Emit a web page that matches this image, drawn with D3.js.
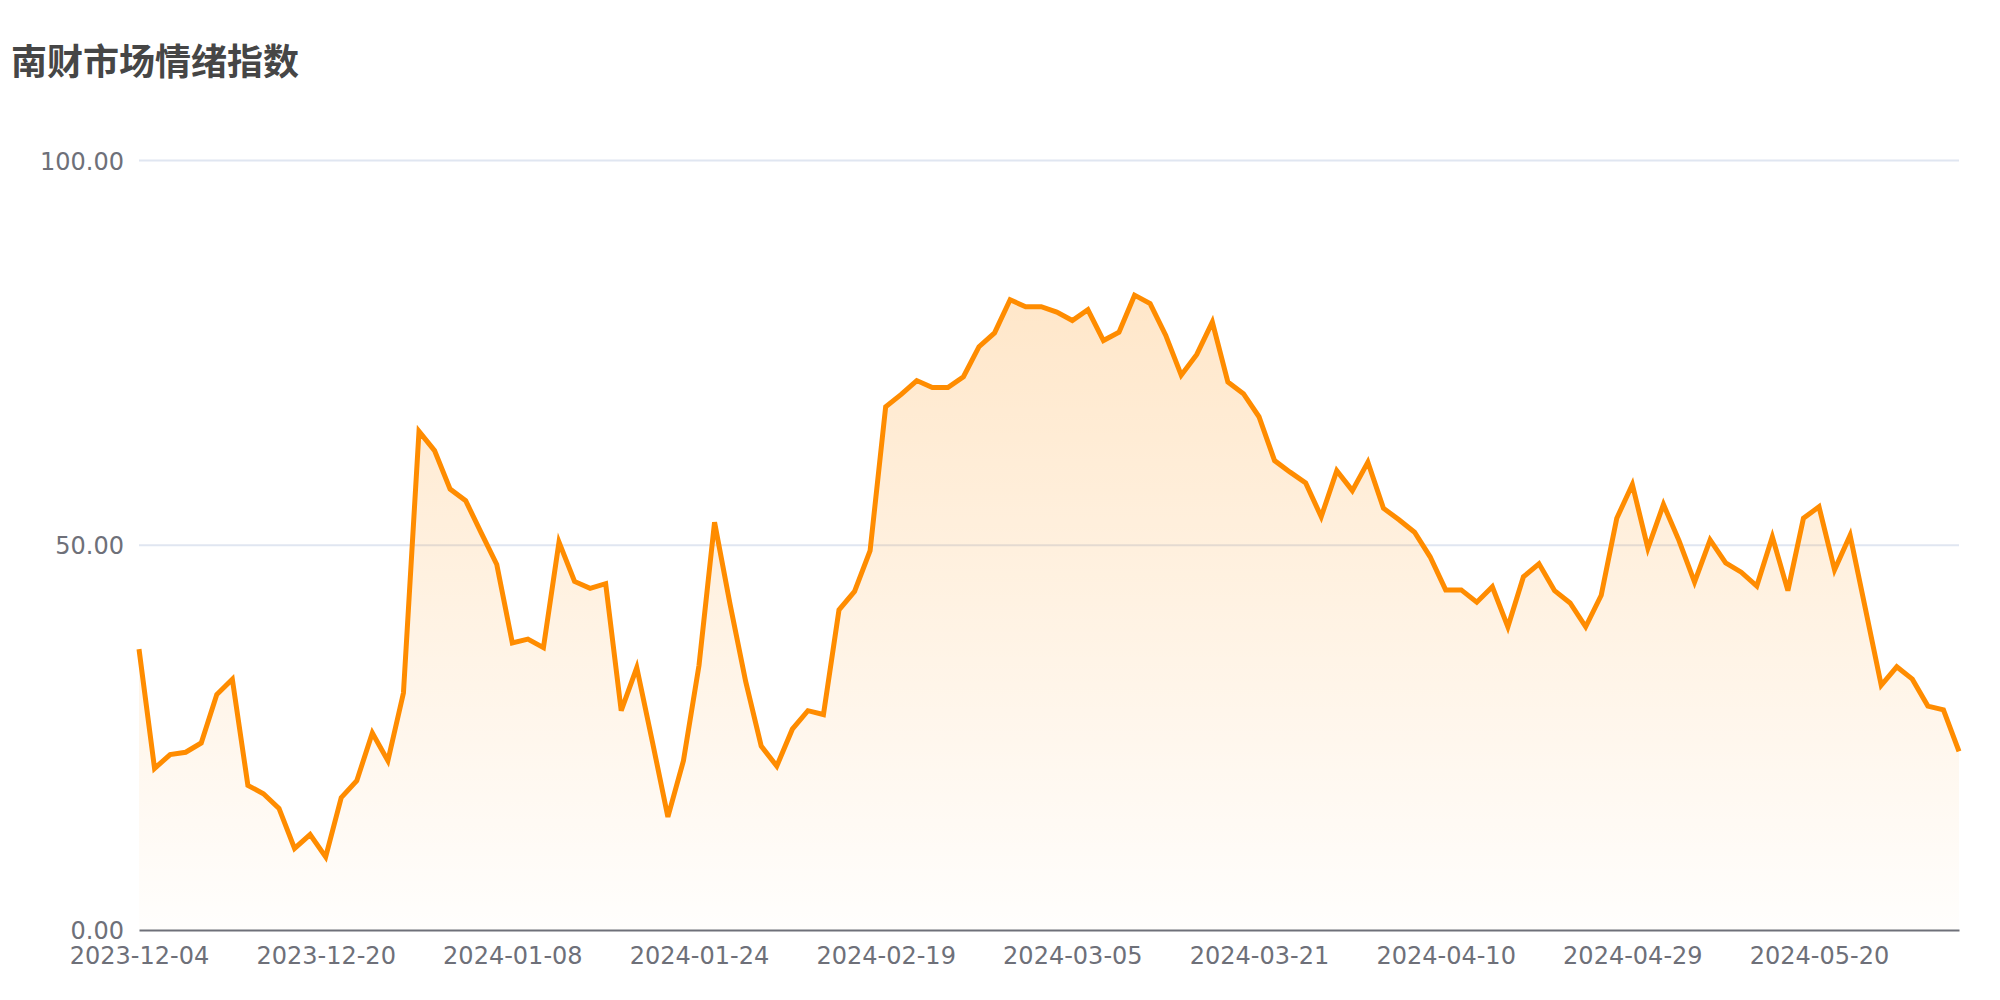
<!DOCTYPE html>
<html>
<head>
<meta charset="utf-8">
<script src="https://cdn.jsdelivr.net/npm/d3@7"></script>
<style>
  body { margin: 0; background: #fff; }
  svg { display: block; }
</style>
</head>
<body>
<div id="chart"></div>
<script>
var title = "南财市场情绪指数";

// trading days shown on the category axis
var dates = [
  "2023-12-04","2023-12-05","2023-12-06","2023-12-07","2023-12-08","2023-12-11","2023-12-12","2023-12-13",
  "2023-12-14","2023-12-15","2023-12-18","2023-12-19","2023-12-20","2023-12-21","2023-12-22","2023-12-25",
  "2023-12-26","2023-12-27","2023-12-28","2023-12-29","2024-01-02","2024-01-03","2024-01-04","2024-01-05",
  "2024-01-08","2024-01-09","2024-01-10","2024-01-11","2024-01-12","2024-01-15","2024-01-16","2024-01-17",
  "2024-01-18","2024-01-19","2024-01-22","2024-01-23","2024-01-24","2024-01-25","2024-01-26","2024-01-29",
  "2024-01-30","2024-01-31","2024-02-01","2024-02-02","2024-02-05","2024-02-06","2024-02-07","2024-02-08",
  "2024-02-19","2024-02-20","2024-02-21","2024-02-22","2024-02-23","2024-02-26","2024-02-27","2024-02-28",
  "2024-02-29","2024-03-01","2024-03-02","2024-03-04","2024-03-05","2024-03-06","2024-03-07","2024-03-08",
  "2024-03-11","2024-03-12","2024-03-13","2024-03-14","2024-03-15","2024-03-18","2024-03-19","2024-03-20",
  "2024-03-21","2024-03-22","2024-03-25","2024-03-26","2024-03-27","2024-03-28","2024-03-29","2024-04-01",
  "2024-04-02","2024-04-03","2024-04-08","2024-04-09","2024-04-10","2024-04-11","2024-04-12","2024-04-15",
  "2024-04-16","2024-04-17","2024-04-18","2024-04-19","2024-04-22","2024-04-23","2024-04-24","2024-04-25",
  "2024-04-29","2024-04-30","2024-05-06","2024-05-07","2024-05-08","2024-05-09","2024-05-10","2024-05-13",
  "2024-05-14","2024-05-15","2024-05-16","2024-05-17","2024-05-20","2024-05-21","2024-05-22","2024-05-23",
  "2024-05-24","2024-05-27","2024-05-28","2024-05-29","2024-05-30","2024-05-31"
];

// sentiment index
var values = [
  36.5, 21.0, 22.8, 23.1, 24.3, 30.6, 32.6, 18.8, 17.7, 15.8, 10.6, 12.4, 9.5, 17.2, 19.4, 25.6,
  22.0, 30.8, 64.8, 62.3, 57.3, 55.8, 51.6, 47.5, 37.3, 37.8, 36.7, 50.4, 45.3, 44.4, 45.0, 28.5,
  34.1, 24.5, 14.7, 22.0, 34.4, 53.0, 42.3, 32.3, 23.9, 21.3, 26.1, 28.5, 28.0, 41.6, 44.0, 49.3,
  68.0, 69.6, 71.4, 70.5, 70.5, 71.9, 75.8, 77.6, 81.9, 81.0, 81.0, 80.3, 79.2, 80.6, 76.6, 77.7,
  82.5, 81.4, 77.3, 72.1, 74.8, 79.0, 71.2, 69.7, 66.7, 61.0, 59.5, 58.1, 53.7, 59.7, 57.1, 60.8,
  54.8, 53.3, 51.7, 48.5, 44.2, 44.2, 42.6, 44.6, 39.4, 45.9, 47.6, 44.1, 42.5, 39.4, 43.5, 53.5,
  57.9, 49.6, 55.3, 50.6, 45.2, 50.7, 47.7, 46.5, 44.7, 51.1, 44.1, 53.5, 55.0, 46.8, 51.3, 41.6,
  31.8, 34.2, 32.6, 29.1, 28.6, 23.2
];

var yTicks = [0, 50, 100];

var width = 2000,
height = 1000,
plotLeft = 139,
plotRight = 1959,
plotTop = 160.5,
plotBottom = 930;

var data = dates.map(function(d, i) { return { date: d, value: values[i] }; });

var svg = d3.select("#chart")
.append("svg")
.attr("width", width)
.attr("height", height);

var xScale = d3.scalePoint()
.domain(dates)
.range([plotLeft, plotRight]);

var yScale = d3.scaleLinear()
.domain([0, 100])
.range([plotBottom, plotTop]);

//Gradient for the area under the line
var grad = svg.append("defs")
.append("linearGradient")
.attr("id", "areaGrad")
.attr("x1", 0).attr("y1", 0)
.attr("x2", 0).attr("y2", 1);

grad.append("stop").attr("offset", "0%").attr("stop-color", "rgb(255,140,0)").attr("stop-opacity", 0.21);
grad.append("stop").attr("offset", "100%").attr("stop-color", "rgb(255,140,0)").attr("stop-opacity", 0.01);

//Title
svg.append("text")
.attr("x", 11)
.attr("y", 75)
.attr("font-family", "'Noto Sans CJK SC', sans-serif")
.attr("font-weight", "bold")
.attr("font-size", 36)
.attr("fill", "#464646")
.text(title);

//Horizontal grid lines
svg.append("g")
.selectAll("line")
.data(yTicks.slice(1))
.enter()
.append("line")
.attr("x1", plotLeft)
.attr("x2", plotRight)
.attr("y1", function(d) { return yScale(d); })
.attr("y2", function(d) { return yScale(d); })
.attr("stroke", "#E0E6F1")
.attr("stroke-width", 2);

//Y labels
var yAxis = d3.axisLeft(yScale)
.tickValues(yTicks)
.tickSize(0)
.tickPadding(15)
.tickFormat(d3.format(".2f"));

var yg = svg.append("g")
.attr("transform", "translate(" + plotLeft + ",1)")
.call(yAxis);

yg.select(".domain").remove();
yg.selectAll(".tick text")
.attr("font-family", "'DejaVu Sans', sans-serif")
.attr("font-size", 24)
.attr("fill", "#6E7079");

// define the area and the line
var area = d3.area()
.x(function(d) { return xScale(d.date); })
.y0(plotBottom)
.y1(function(d) { return yScale(d.value); });

var line = d3.line()
.x(function(d) { return xScale(d.date); })
.y(function(d) { return yScale(d.value); });

svg.append("path")
.datum(data)
.attr("d", area)
.attr("fill", "url(#areaGrad)");

//X axis, a label every 12 days
var xAxis = d3.axisBottom(xScale)
.tickValues(dates.filter(function(d, i) { return i % 12 === 0; }))
.tickSize(0)
.tickPadding(17)
.tickSizeOuter(0);

var xg = svg.append("g")
.attr("transform", "translate(0," + plotBottom + ")")
.call(xAxis);

xg.select(".domain")
.attr("stroke", "#6E7079")
.attr("stroke-width", 2);
xg.selectAll(".tick text")
.attr("font-family", "'DejaVu Sans', sans-serif")
.attr("font-size", 24)
.attr("fill", "#6E7079");

svg.append("path")
.datum(data)
.attr("d", line)
.attr("fill", "none")
.attr("stroke", "#FF8C00")
.attr("stroke-width", 5);
</script>
</body>
</html>
